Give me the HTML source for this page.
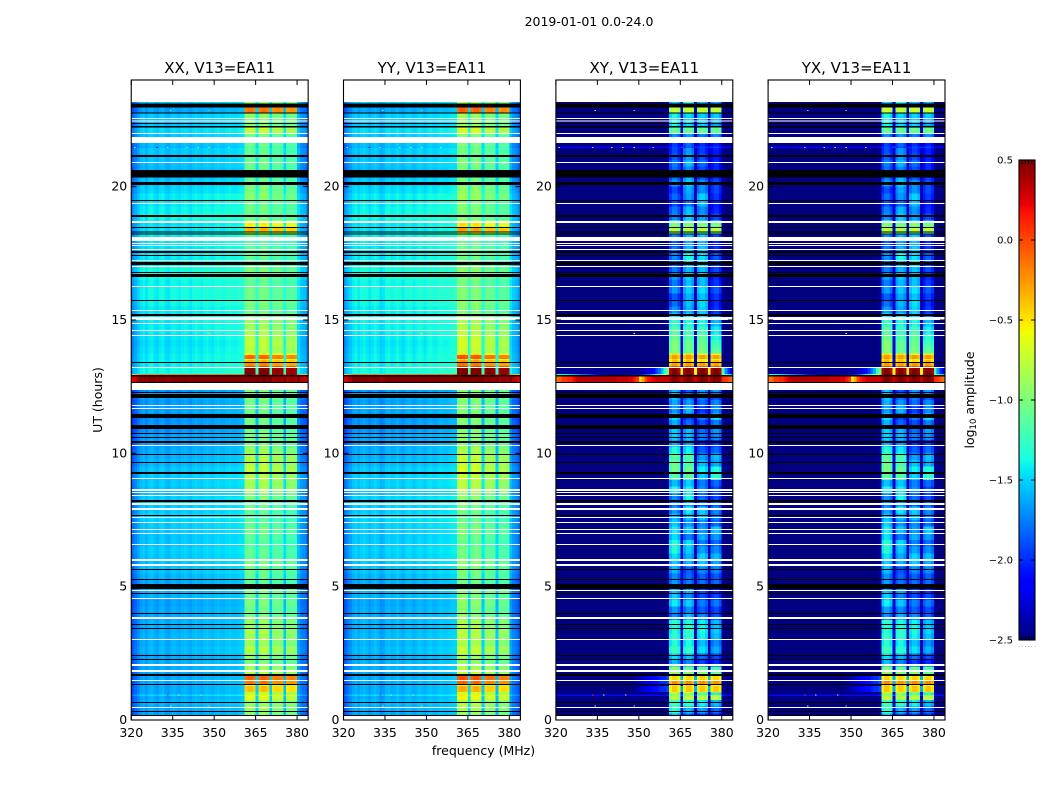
<!DOCTYPE html>
<html lang="en">
<head>
<meta charset="utf-8">
<title>2019-01-01 0.0-24.0</title>
<style>
html,body{margin:0;padding:0;background:#fff;}
svg{display:block;}
text{font-family:"DejaVu Sans","Liberation Sans",sans-serif;fill:#000;}
</style>
</head>
<body>
<svg id="figure" width="1050" height="800" viewBox="0 0 1050 800" xmlns="http://www.w3.org/2000/svg">
  <text x="589" y="26" text-anchor="middle" font-size="12.5">2019-01-01 0.0-24.0</text>
  <text x="483.5" y="755" text-anchor="middle" font-size="12.5">frequency (MHz)</text>
  <text transform="translate(102,400) rotate(-90)" text-anchor="middle" font-size="12.5">UT (hours)</text>
  <text transform="translate(974,400) rotate(-90)" text-anchor="middle" font-size="12.5">log<tspan font-size="8.5" dy="2">10</tspan><tspan dy="-2"> amplitude</tspan></text>
</svg>
<script>
const panelTitles = ['XX, V13=EA11', 'YY, V13=EA11', 'XY, V13=EA11', 'YX, V13=EA11'];
const xTicks = [320, 335, 350, 365, 380];
const yTicks = [0, 5, 10, 15, 20];
const colorbarTicks = ['\u22122.5', '\u22122.0', '\u22121.5', '\u22121.0', '\u22120.5', '0.0', '0.5'];
const colorbarValues = [-2.5, -2.0, -1.5, -1.0, -0.5, 0.0, 0.5];

/* sub-band index of each of the 64 one-MHz channels (320-383 MHz); -1 = outside a sub-band */
const channelBand = [
  -1,-1,-1,-1,-1,-1,-1,-1,-1,-1,-1,-1,-1,-1,-1,-1,-1,-1,-1,-1,
  -1,-1,-1,-1,-1,-1,-1,-1,-1,-1,-1,-1,-1,-1,-1,-1,-1,-1,-1,-1,-1,
  0,0,0,0,-1,1,1,1,1,-1,2,2,2,2,-1,3,3,3,3,-1,-1,-1,-1
];

/* per-channel log10 offsets */
const xxShape = [
  -.26,-.18,-.10,-.02,.02,-.04,.03,.05,-.01,-.03,
  .03,.05,-.02,-.04,.02,.04,.01,-.01,.03,.05,
  .02,-.02,.03,.06,.03,.01,.05,.07,.04,.02,
  .06,.08,.05,.04,.07,.09,.07,.06,.08,.10,
  .10,-.03,.03,.03,-.03,.14,-.02,.04,.04,-.02,
  .12,-.09,-.05,-.05,-.09,.08,-.12,-.08,-.08,-.12,
  -.02,-.12,-.15,-.22
];
const yyShape = [
  -.24,-.14,-.08,.00,.04,-.02,.03,.06,.02,-.03,
  .02,.06,.02,-.06,-.03,.04,.06,.01,.03,.07,
  .03,-.01,.04,.07,.05,.01,.04,.08,.06,.02,
  .07,.09,.06,.05,.09,.10,.08,.08,.10,.12,
  .12,.04,.10,.10,.04,.16,.02,.08,.08,.02,
  .12,-.06,-.02,-.02,-.06,.08,-.10,-.06,-.06,-.10,
  -.02,-.12,-.16,-.24
];
const xyShape = [
  0,0,0,0,0,0,0,0,0,0,0,0,0,0,0,0,0,0,0,0,
  0,0,0,0,0,0,0,0,0,0,0,0,0,0,0,0,0,0,0,0,
  .06,-.10,.04,.04,-.10,.22,-.08,.05,.05,-.08,
  .15,-.06,.05,.05,-.06,.15,-.06,.04,.04,-.08,
  .05,0,0,0
];
const yxShape = [
  0,0,0,0,0,0,0,0,0,0,0,0,0,0,0,0,0,0,0,0,
  0,0,0,0,0,0,0,0,0,0,0,0,0,0,0,0,0,0,0,0,
  .06,-.08,.06,.06,-.08,.22,-.08,.03,.03,-.08,
  .15,-.05,.06,.06,-.05,.15,-.06,.06,.06,-.06,
  .05,0,0,0
];

/* quarter-hour levels, index 0 = 00:00 UT */
const copolBackground = [
  -1.66,-1.64,-1.62,-1.64, -1.64,-1.62,-1.64,-1.64, -1.62,-1.64,-1.60,-1.62, -1.60,-1.62,-1.62,-1.64,
  -1.64,-1.66,-1.62,-1.60, -1.64,-1.60,-1.56,-1.56, -1.55,-1.53,-1.55,-1.56, -1.54,-1.53,-1.51,-1.54,
  -1.54,-1.53,-1.56,-1.54, -1.54,-1.56,-1.60,-1.62, -1.64,-1.66,-1.66,-1.70, -1.70,-1.72,-1.66,-1.68,
  -1.66,-1.70,-1.64,-1.42, -1.38,-1.44,-1.44,-1.46, -1.48,-1.46,-1.44,-1.44, -1.44,-1.46,-1.42,-1.40,
  -1.40,-1.42,-1.38,-1.38, -1.42,-1.45,-1.47,-1.45, -1.45,-1.43,-1.43,-1.41, -1.43,-1.46,-1.45,-1.51,
  -1.55,-1.57,-1.60,-1.57, -1.57,-1.55,-1.59,-1.55, -1.53,-1.57,-1.55,-1.60, -1.55
];
const copolBand = [
  -.98,-.92,-.88,-.82, -.78,-.65,-.65,-.85, -1.00,-.95,-.80,-.90, -.85,-.85,-.90,-1.00,
  -1.05,-1.00,-1.05,-1.00, -1.10,-1.10,-1.05,-1.00, -1.10,-1.10,-1.15,-1.10, -1.05,-1.10,-1.15,-1.10,
  -1.05,-1.00,-.85,-.85, -.80,-.75,-.80,-.80, -.90,-1.05,-1.00,-1.05, -1.05,-1.00,-1.05,-1.05,
  -1.00,-1.00,-1.00,-.60, .45,-.35,-.55,-.80, -.75,-.80,-.85,-.90, -.95,-1.05,-1.00,-1.05,
  -1.05,-1.10,-1.05,-1.00, -1.05,-1.10,-1.10,-1.15, -1.10,-.70,-.85,-1.05, -1.05,-1.05,-.95,-1.00,
  -1.05,-1.10,-1.10,-1.05, -1.10,-1.10,-1.05,-1.05, -.80,-.95,-.95,-.40, -.90
];
const crossFloor = -2.5;
const crossBandA = [
  -1.60,-1.30,-1.25,-1.00, -.75,-.50,-.45,-1.00, -1.60,-1.50,-1.25,-1.35, -1.30,-1.35,-1.30,-1.75,
  -1.70,-1.45,-1.55,-1.60, -1.70,-1.75,-1.60,-1.55, -1.50,-1.35,-1.35,-1.50, -1.45,-1.55,-1.60,-1.70,
  -1.80,-1.75,-1.40,-1.60, -1.15,-1.05,-1.10,-1.15, -1.35,-1.65,-1.55,-1.55, -1.65,-1.50,-1.70,-1.65,
  -1.60,-1.60,-1.60,-1.00, .45,-.40,-.50,-1.00, -1.00,-1.10,-1.15,-1.30, -1.40,-1.70,-1.85,-1.90,
  -1.70,-1.80,-1.70,-1.80, -1.85,-1.75,-1.80,-1.90, -1.75,-.90,-1.45,-1.75, -1.80,-1.95,-1.85,-1.95,
  -1.70,-1.80,-1.85,-1.80, -1.90,-1.95,-2.00,-1.75, -1.30,-1.40,-1.40,-1.30, -1.55
];
const crossBandB = [
  -1.90,-1.60,-1.30,-1.10, -.75,-.45,-.50,-1.10, -1.75,-1.60,-1.30,-1.40, -1.30,-1.30,-1.35,-1.60,
  -1.75,-1.55,-1.75,-1.65, -1.80,-1.85,-1.90,-1.60, -1.65,-1.55,-1.50,-1.80, -1.55,-1.70,-1.60,-1.45,
  -1.70,-1.40,-1.45,-1.55, -1.15,-1.10,-1.20,-1.20, -1.45,-1.70,-1.60,-1.60, -1.85,-1.95,-1.60,-1.70,
  -1.80,-1.90,-1.70,-1.00, .45,-.40,-.50,-1.10, -1.10,-1.20,-1.25,-1.35, -1.40,-1.65,-1.60,-1.65,
  -1.55,-1.60,-1.55,-1.60, -1.55,-1.35,-1.60,-1.65, -1.60,-1.05,-1.45,-1.55, -1.60,-1.85,-1.70,-1.65,
  -1.55,-1.60,-1.75,-1.60, -1.70,-1.70,-1.85,-1.70, -1.35,-1.50,-1.50,-1.40, -1.30
];
const crossBandC = [
  -2.00,-1.70,-1.45,-1.35, -1.05,-.55,-.60,-1.10, -2.00,-1.85,-1.50,-1.60, -1.45,-1.40,-1.45,-1.75,
  -1.90,-1.80,-1.95,-1.95, -1.85,-1.90,-1.75,-1.55, -1.55,-1.70,-1.80,-1.65, -1.70,-1.75,-1.60,-1.55,
  -1.90,-1.85,-1.75,-1.80, -1.55,-1.45,-1.60,-1.70, -1.90,-2.05,-1.80,-1.85, -1.95,-1.80,-2.00,-1.85,
  -1.80,-1.70,-1.75,-1.20, .40,-.55,-.70,-1.05, -1.10,-1.15,-1.25,-1.40, -1.50,-1.55,-1.50,-1.60,
  -1.50,-1.60,-1.60,-1.60, -1.45,-1.50,-1.55,-1.60, -1.55,-1.15,-1.50,-1.70, -1.75,-1.60,-1.55,-1.75,
  -1.75,-1.90,-1.95,-1.85, -1.95,-2.00,-2.05,-1.80, -1.50,-1.55,-1.55,-1.50, -1.60
];
const crossBandD = [
  -2.05,-1.85,-1.60,-1.50, -1.15,-.60,-.70,-1.20, -2.05,-1.95,-1.65,-1.75, -1.60,-1.55,-1.60,-1.90,
  -1.95,-1.80,-1.95,-2.05, -1.85,-1.90,-1.75,-1.65, -1.60,-1.75,-1.85,-1.70, -1.55,-1.85,-1.80,-1.75,
  -1.90,-1.95,-1.95,-1.85, -1.30,-1.35,-1.65,-1.60, -1.85,-2.00,-1.75,-1.70, -1.80,-1.50,-1.75,-1.75,
  -1.90,-1.70,-1.70,-1.25, .35,-.40,-.60,-1.15, -1.25,-1.35,-1.45,-1.60, -1.80,-2.00,-2.05,-2.00,
  -1.90,-2.00,-2.05,-1.95, -1.95,-1.90,-2.00,-2.05, -1.95,-1.10,-1.65,-1.95, -2.05,-2.10,-2.00,-1.95,
  -1.95,-2.00,-2.05,-2.05, -2.10,-2.10,-2.10,-1.75, -1.05,-1.65,-1.55,-1.40, -1.65
];
const crossBands = [crossBandA, crossBandB, crossBandC, crossBandD];

/* whole-row channel levels of the cross-hand flare around 12.9 UT */
const crossFlareLow = [
  -2.45,-2.45,-2.45,-2.45,-2.45,-2.45,-2.45,-2.45,-2.45,-2.45,-2.45,-2.45,-2.45,-2.45,-2.45,-2.45,
  -2.45,-2.45,-2.45,-2.45,-2.45,-2.45,-2.45,-2.45,-2.45,-2.45,-2.45,-2.45,-2.45,-2.45,-2.4,-2.4,
  -2.35,-2.3,-2.2,-2.1,-1.95,-1.8,-1.6,-1.3,-1.0,0,0,0,0,-.6,0,0,0,0,-.6,0,0,0,0,-.6,0,0,0,0,
  -1.2,-1.7,-2.0,-2.2
];
const crossFlareEdge = [
  -1.3,-1.3,-1.35,-1.4,-1.45,-1.5,-1.55,-1.6,-1.7,-1.75,-1.8,-1.85,-1.9,-2.0,-2.1,-2.2,
  -2.3,-2.35,-2.4,-2.4,-2.4,-2.4,-2.4,-2.4,-2.4,-2.4,-2.35,-2.3,-2.25,-2.2,-2.1,-2.0,
  -1.9,-1.8,-1.6,-1.4,-1.2,-1.0,-.8,-.6,-.4,0,0,0,0,-.4,0,0,0,0,-.4,0,0,0,0,-.4,0,0,0,0,
  -.9,-1.2,-1.4,-1.5
];
const crossFlareHigh = [
  -.15,-.10,.05,.05,.10,.10,.20,.30,.35,.35,.35,.35,.35,.35,.35,.35,
  .35,.35,.35,.35,.35,.35,.30,.30,.30,.30,.25,.25,.15,.05,-.50,-.30,
  .00,.15,.20,.25,.30,.30,.30,.30,.30,.45,.45,.45,.45,.30,.45,.45,.45,.45,.30,.45,.45,.45,.45,.30,.45,.45,.45,.45,
  .10,.05,-.05,-.10
];
const crossFlareGlow = [
  -2.5,-2.5,-2.5,-2.5,-2.5,-2.5,-2.5,-2.5,-2.5,-2.5,-2.5,-2.5,-2.5,-2.5,-2.5,-2.5,
  -2.5,-2.5,-2.5,-2.5,-2.5,-2.5,-2.5,-2.5,-2.5,-2.5,-2.5,-2.5,-2.45,-2.4,-2.35,-2.3,
  -2.25,-2.2,-2.15,-2.1,-2.1,-2.05,-2.0,-2.0,-1.9,0,0,0,0,-1.6,0,0,0,0,-1.6,0,0,0,0,-1.6,0,0,0,0,
  -2.4,-2.5,-2.5,-2.5
];

/* short bursts overriding the quarter-hour levels */
const burstFrom = [22.78, 22.00, 21.45, 18.32, 18.50, 13.54, 13.28, 12.97, 12.89, 12.68, 1.50, 1.31, 1.05, 0.75, 0.90];
const burstTo = [22.96, 22.20, 21.50, 18.45, 18.64, 13.69, 13.39, 13.20, 12.97, 12.89, 1.65, 1.46, 1.27, 0.90, 0.96];
const burstCopolBackground = [-1.66, -1.50, -1.62, -1.48, -1.48, -1.44, -1.44, -1.38, -.20, .50, -1.64, -1.64, -1.64, -1.64, -1.50];
const burstCopolBand = [-.15, -.75, -1.15, -.35, -.55, -.10, -.20, .50, .50, .50, -.10, -.15, -.40, -.65, -.60];
const burstCrossBackground = [-2.5, -2.5, -2.15, -2.5, -2.5, -2.5, -2.5, crossFlareLow, crossFlareEdge, crossFlareHigh, crossFlareGlow, crossFlareGlow, crossFlareGlow, -2.5, -2.10];
const burstCrossBand = [-.75, -1.10, -1.95, -.80, -1.00, -.30, -.30, .45, .50, .50, -.50, -.25, -.45, -.80, -.90];

/* isolated interference dots */
const spikeHours = [21.47, 21.47, 21.47, 21.47, 21.47, 21.47, 21.47, 22.85, 22.85, 14.50, 0.93, 0.93, 0.93, 0.53, 0.53];
const spikeChannels = [1, 9, 13, 20, 24, 28, 35, 28, 14, 28, 13, 17, 25, 28, 14];
const spikeLevels = [-.8, .5, -.9, -.9, -.7, -.5, -.9, -.3, -1.0, -.7, .1, -.7, -.5, -.4, -.8];

/* flagged intervals, hours UT */
const blackFrom = [22.96,22.74,22.35,22.21,21.11,20.34,20.06,19.46,18.86,18.45,18.29,18.20,17.51,17.40,17.06,16.76,16.61,15.71,15.15,13.39,12.89,12.64,12.26,12.08,11.33,10.91,10.73,10.58,10.39,9.94,9.64,9.23,8.18,7.65,5.63,5.25,4.91,4.73,3.98,3.56,3.41,2.40,2.25,1.65,1.31,0.64,0.30,0.15];
const blackTo = [23.11,22.78,22.39,22.28,21.19,20.63,20.18,19.50,18.94,18.49,18.32,18.24,17.59,17.44,17.18,16.80,16.73,15.75,15.23,13.43,12.94,12.68,12.30,12.23,11.48,11.06,10.76,10.61,10.46,9.98,9.68,9.30,8.25,7.69,5.66,5.29,5.10,4.76,4.01,3.60,3.45,2.44,2.29,1.73,1.35,0.68,0.34,0.19];
const whiteFrom = [22.54,22.44,21.98,21.64,20.89,19.35,18.64,17.96,17.85,17.78,17.63,17.21,16.99,16.24,15.34,15.00,14.85,14.59,14.40,13.20,12.38,11.78,11.66,10.28,9.04,8.59,8.51,8.40,8.06,7.88,7.58,7.39,7.13,6.98,6.56,5.96,5.78,4.84,4.54,3.79,3.00,2.03,1.80,1.46,0.45];
const whiteTo = [22.58,22.48,22.01,21.86,20.93,19.39,18.71,18.11,17.89,17.81,17.66,17.25,17.03,16.28,15.38,15.11,14.89,14.63,14.44,13.24,12.64,11.81,11.70,10.31,9.08,8.66,8.55,8.44,8.14,7.95,7.61,7.43,7.16,7.01,6.60,6.04,5.85,4.88,4.58,3.86,3.04,2.10,1.88,1.50,0.49];

const dataFromHour = 0.15;
const dataToHour = 23.18;

const svgNS = 'http://www.w3.org/2000/svg';
const svg = document.getElementById('figure');
const panelLefts = [131.25, 343.5, 555.9, 768.1];
const panelWidth = 176.9;
const axTop = 80, axBottom = 720;
const panelShapes = [xxShape, yyShape, xyShape, yxShape];
const panelIsCross = [false, false, true, true];

function xScale(p, mhz) { return panelLefts[p] + (mhz - 320) / 64 * panelWidth; }
function yScale(hour) { return axBottom - (hour / 24) * (axBottom - axTop); }
function clip01(v) { return Math.max(0, Math.min(1, v)); }
function jet(t) {
  const r = t < .35 ? 0 : t < .66 ? (t - .35) / .31 : t < .89 ? 1 : 1 - (t - .89) / .11 * .5;
  const g = t < .125 ? 0 : t < .375 ? (t - .125) / .25 : t < .64 ? 1 : t < .91 ? 1 - (t - .64) / .27 : 0;
  const b = t < .11 ? .5 + t / .11 * .5 : t < .34 ? 1 : t < .65 ? 1 - (t - .34) / .31 : 0;
  return 'rgb(' + Math.round(r * 255) + ',' + Math.round(g * 255) + ',' + Math.round(b * 255) + ')';
}
function colorOf(level) { return jet(clip01((level + 2.5) / 3)); }

function rect(parent, x, y, w, h, fill) {
  const el = document.createElementNS(svgNS, 'rect');
  el.setAttribute('x', x.toFixed(2));
  el.setAttribute('y', y.toFixed(2));
  el.setAttribute('width', w.toFixed(2));
  el.setAttribute('height', h.toFixed(2));
  el.setAttribute('fill', fill);
  parent.appendChild(el);
  return el;
}
function line(parent, x1, y1, x2, y2) {
  const el = document.createElementNS(svgNS, 'line');
  el.setAttribute('x1', x1);
  el.setAttribute('y1', y1);
  el.setAttribute('x2', x2);
  el.setAttribute('y2', y2);
  el.setAttribute('stroke', '#000');
  el.setAttribute('stroke-width', '1');
  parent.appendChild(el);
  return el;
}
function label(parent, x, y, anchor, size, str) {
  const el = document.createElementNS(svgNS, 'text');
  el.setAttribute('x', x);
  el.setAttribute('y', y);
  el.setAttribute('text-anchor', anchor);
  el.setAttribute('font-size', size);
  el.textContent = str;
  parent.appendChild(el);
  return el;
}
function group(parent) {
  const g = document.createElementNS(svgNS, 'g');
  parent.appendChild(g);
  return g;
}
function blockLevel(p, ch, k) {
  const band = channelBand[ch];
  const shape = panelShapes[p][ch];
  if (panelIsCross[p]) {
    return (band >= 0 ? crossBands[band][k] : crossFloor) + shape;
  }
  return (band >= 0 ? copolBand[k] : copolBackground[k]) + shape;
}
function burstLevel(p, ch, i) {
  const band = channelBand[ch];
  const shape = panelShapes[p][ch];
  if (panelIsCross[p]) {
    if (band >= 0) return burstCrossBand[i] + shape;
    const bg = burstCrossBackground[i];
    return Array.isArray(bg) ? bg[ch] : bg + shape;
  }
  return (band >= 0 ? burstCopolBand[i] : burstCopolBackground[i]) + shape;
}
function drawRow(g, p, fromHour, toHour, levelAt) {
  const lo = Math.max(fromHour, dataFromHour);
  const hi = Math.min(toHour, dataToHour);
  if (hi <= lo) return;
  const last = channelBand.length - 1;
  for (let ch = 0; ch <= last; ch++) {
    const x0 = xScale(p, 320 + ch), x1 = xScale(p, 321 + ch);
    const overlap = ch < last ? .7 : 0;
    const cell = rect(g, x0, yScale(hi), x1 - x0 + overlap, yScale(lo) - yScale(hi), colorOf(levelAt(ch)));
    
    
  }
}

panelTitles.forEach(function (title, p) {
  const left = panelLefts[p], right = left + panelWidth;
  const panel = group(svg);
  
  

  const cells = group(panel);
  cells.setAttribute('shape-rendering', 'crispEdges');
  
  

  copolBackground.forEach(function (_, k) {
    drawRow(cells, p, k / 4, (k + 1) / 4, function (ch) { return blockLevel(p, ch, k); });
  });
  burstFrom.forEach(function (from, i) {
    drawRow(cells, p, from, burstTo[i], function (ch) { return burstLevel(p, ch, i); });
  });
  spikeHours.forEach(function (hour, i) {
    const ch = spikeChannels[i];
    const x0 = xScale(p, 320 + ch);
    const dot = rect(cells, x0, yScale(hour + .02), 1.5, yScale(hour - .02) - yScale(hour + .02), colorOf(spikeLevels[i]));
    
    
  });
  blackFrom.forEach(function (from, i) {
    const bar = rect(cells, left, yScale(blackTo[i]), panelWidth, yScale(from) - yScale(blackTo[i]), '#000');
    
    
  });
  whiteFrom.forEach(function (from, i) {
    const bar = rect(cells, left, yScale(whiteTo[i]), panelWidth, yScale(from) - yScale(whiteTo[i]), '#fff');
    
    
  });

  const frame = rect(panel, left, axTop, panelWidth, axBottom - axTop, 'none');
  frame.setAttribute('stroke', '#000');
  frame.setAttribute('stroke-width', '1.1');
  
  

  xTicks.forEach(function (mhz) {
    const x = xScale(p, mhz);
    const tb = line(panel, x, axBottom, x, axBottom - 5);
    
    
    const tt = line(panel, x, axTop, x, axTop + 5);
    
    
    const t = label(panel, x, 737, 'middle', 12.5, String(mhz));
    
    
  });
  yTicks.forEach(function (hour) {
    const y = yScale(hour);
    const tl = line(panel, left, y, left + 5, y);
    
    
    const tr = line(panel, right, y, right - 5, y);
    
    
    const t = label(panel, left - 4, y + 4, 'end', 12.5, String(hour));
    
    
  });
  const t = label(panel, left + panelWidth / 2, 73, 'middle', 15, title);
  
  
});

/* colour bar */
const cbLeft = 1019, cbWidth = 16, cbTop = 160, cbBottom = 640;
function cbScale(level) { return cbBottom - (level + 2.5) / 3 * (cbBottom - cbTop); }
const colorbar = group(svg);


const cbCells = group(colorbar);
cbCells.setAttribute('shape-rendering', 'crispEdges');


for (let i = 0; i < 256; i++) {
  const lo = -2.5 + i / 256 * 3, hi = -2.5 + (i + 1) / 256 * 3;
  const c = rect(cbCells, cbLeft, cbScale(hi), cbWidth, cbScale(lo) - cbScale(hi) + .3, jet(i / 255));
  
  
}
const cbFrame = rect(colorbar, cbLeft, cbTop, cbWidth, cbBottom - cbTop, 'none');
cbFrame.setAttribute('stroke', '#000');
cbFrame.setAttribute('stroke-width', '1.1');


colorbarValues.forEach(function (level, i) {
  const y = cbScale(level);
  const a = line(colorbar, cbLeft, y, cbLeft + 4, y);
  
  
  const b = line(colorbar, cbLeft + cbWidth, y, cbLeft + cbWidth - 4, y);
  
  
  const t = label(colorbar, 1013, y + 3.5, 'end', 10, colorbarTicks[i]);
  
  
});
for (let i = 0; i < 6; i++) {
  const x = cbLeft + cbWidth * i / 5;
  const a = line(colorbar, x, cbTop, x, cbTop + 4);
  
  
  const b = line(colorbar, x, cbBottom, x, cbBottom - 4);
  
  
  const d = label(colorbar, x, 647, 'middle', 5, '.');
  
  
}
</script>
</body>
</html>
